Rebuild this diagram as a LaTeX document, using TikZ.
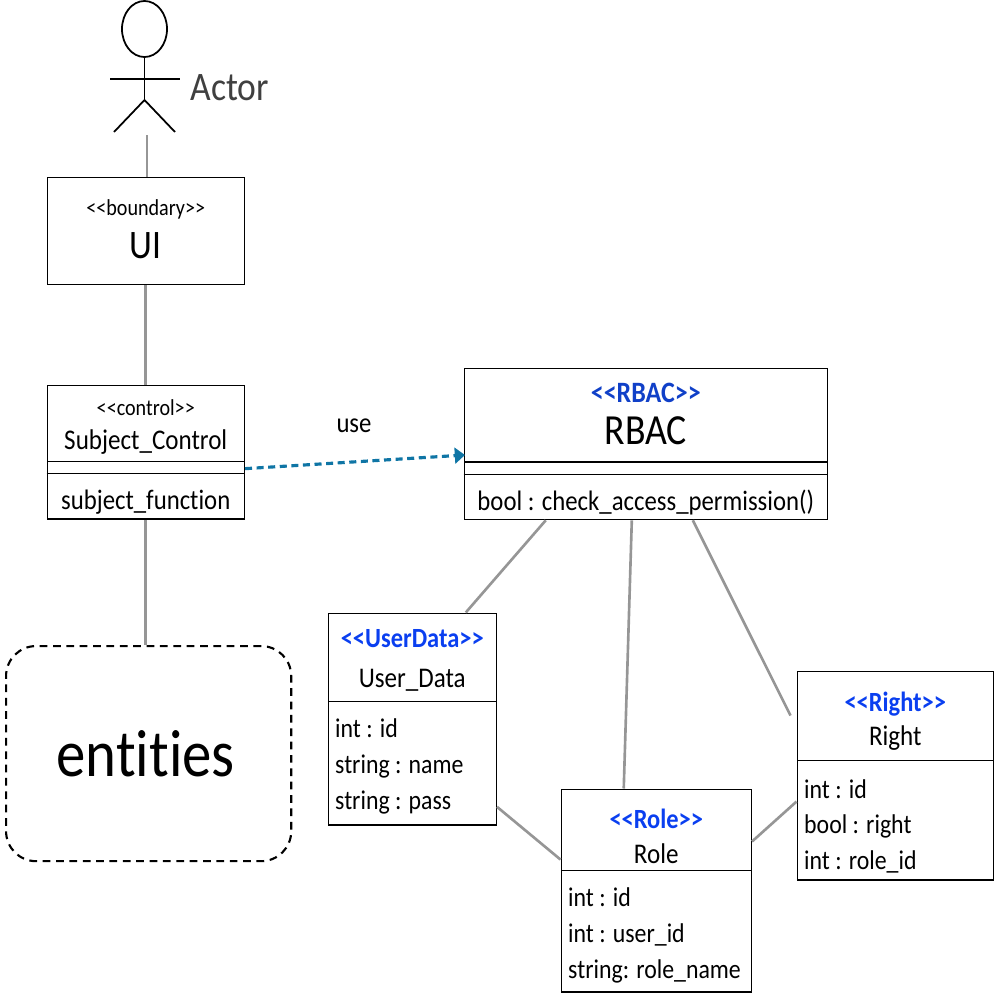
\documentclass[tikz,border=0pt]{standalone}
\usepackage{fontspec}
\setmainfont[FakeStretch=0.88,Ligatures=NoCommon]{Carlito}
\usetikzlibrary{shapes.multipart}
\usetikzlibrary{shapes.geometric}
\usetikzlibrary{arrows.meta}

\newcommand{\cellbox}[3]{\parbox[c][#2][c]{#1}{#3}}
\newcommand{\guil}[1]{<\kern0pt<#1>\kern0pt>}
\newcommand{\stereo}[1]{{\fontsize{6.5}{9}\selectfont\guil{#1}\par}}
\newcommand{\blue}[3]{{\fontsize{#1}{9}\selectfont\bfseries\color{#2}\guil{#3}\par}}
\newcommand{\cname}{\fontsize{8.1}{10}\selectfont}
\newcommand{\attr}{\fontsize{7.7}{10.2}\selectfont\raggedright\leftskip=0.07cm}

\definecolor{assoc}{HTML}{969696}
\definecolor{usedep}{HTML}{0F75A5}
\definecolor{rolebl}{HTML}{0A3FF0}
\definecolor{rbacbl}{HTML}{1040C8}

\begin{document}
\begin{tikzpicture}[x=0.01cm,y=-0.01cm,
  classbox/.style={draw,rectangle split,rectangle split parts=#1,inner sep=0pt,anchor=north west,line width=0.4pt,rectangle split part align=center},
  assocline/.style={draw=assoc,line width=0.75pt}]

\useasboundingbox (0,0) rectangle (1000,1000);

% actor
\node (head) [draw,ellipse,line width=0.5pt,minimum width=0.45cm,minimum height=0.56cm,inner sep=0pt] at (144.5,29) {};
\coordinate (hip) at (144.5,100);
\coordinate (foot) at (147,135);
\draw[line width=0.5pt] (head.south) -- (hip);
\draw[line width=0.5pt] (110,79) -- (180,79);
\draw[line width=0.5pt] (114,132) -- (hip) -- (175,132);
\node (actor) [anchor=west,inner sep=0pt,text=black!75] at (190,88) {\fontsize{11.5}{12}\selectfont Actor};

% ui
\node (ui) [classbox=1] at (46.5,177) {
\nodepart{one}\cellbox{1.97cm}{1.055cm}{\centering\stereo{boundary}\vspace{-0.7pt}{\fontsize{11.5}{13}\selectfont UI\par}\vspace*{0.04cm}}
};

% control
\node (control) [classbox=2] at (46.5,384.5) {
\nodepart{one}\cellbox{1.97cm}{0.75cm}{\vspace*{0.07cm}\centering\stereo{control}\vspace{-0.3pt}{\cname Subject\_Control\par}}
\nodepart{two}\cellbox{1.97cm}{0.56cm}{\vspace*{0.23cm}\centering\fontsize{8}{10}\selectfont subject\_function\par}
};
\draw[line width=0.4pt] ([yshift=-0.12cm]control.text split west) -- ([yshift=-0.12cm]control.text split east);

% entities
\node (entities) [draw,dash pattern=on 2.2pt off 1.6pt,line width=0.6pt,rounded corners=0.3cm,anchor=north west,minimum width=2.85cm,minimum height=2.15cm,inner sep=0pt] at (5,645) {\hspace*{-0.06cm}\fontsize{19}{22}\selectfont entities};

% rbac
\node (rbac) [classbox=2] at (463.5,368) {
\nodepart{one}\cellbox{3.63cm}{0.92cm}{\centering\blue{8.4}{rbacbl}{RBAC}\vspace{-1pt}{\fontsize{12.2}{13}\selectfont RBAC\par}\vspace*{0.03cm}}
\nodepart{two}\cellbox{3.63cm}{0.56cm}{\vspace*{0.23cm}\centering\fontsize{8}{10}\selectfont bool : check\_access\_permission()\par}
};
\draw[line width=0.4pt] ([yshift=-0.125cm]rbac.text split west) -- ([yshift=-0.125cm]rbac.text split east);

% user data
\node (userdata) [classbox=2] at (327.5,612.5) {
\nodepart{one}\cellbox{1.68cm}{0.87cm}{\vspace*{0.06cm}\centering\blue{7.9}{rolebl}{UserData}\vspace{1.3pt}{\cname User\_Data\par}}
\nodepart{two}\cellbox{1.68cm}{1.22cm}{\vspace*{0.06cm}\attr int : id\\string : name\\string : pass\par}
};

% role
\node (role) [classbox=2] at (560.5,788.5) {
\nodepart{one}\cellbox{1.90cm}{0.80cm}{\vspace*{0.13cm}\centering\blue{7.9}{rolebl}{Role}\vspace{-0.15pt}{\cname Role\par}}
\nodepart{two}\cellbox{1.90cm}{1.20cm}{\vspace*{0.08cm}\attr int : id\\int : user\_id\\string: role\_name\par}
};

% right
\node (right) [classbox=2] at (796.5,670.5) {
\nodepart{one}\cellbox{1.96cm}{0.88cm}{\vspace*{0.11cm}\centering\blue{7.9}{rolebl}{Right}\vspace{-0.3pt}{\cname Right\par}}
\nodepart{two}\cellbox{1.96cm}{1.18cm}{\vspace*{0.12cm}\attr int : id\\bool : right\\int : role\_id\par}
};

% connectors
\draw[assocline] (foot) -- (foot |- ui.north);
\draw[assocline] (ui.south) -- (control.north);
\draw[assocline] (control.south) -- (control.south |- entities.north);
\draw[assocline] ([xshift=-1cm]rbac.south) -- ([xshift=0.535cm]userdata.north);
\draw[assocline] ([xshift=-0.14cm]rbac.south) -- ([xshift=-0.325cm]role.north);
\draw[assocline] ([xshift=0.47cm]rbac.south) -- ([xshift=-0.06cm,yshift=-0.45cm]right.north west);
\draw[assocline] ([yshift=0.19cm]userdata.south east) -- ([yshift=-0.71cm]role.north west);
\draw[assocline] ([yshift=-0.53cm]role.north east) -- ([yshift=-1.31cm]right.north west);

% use
\coordinate (rbacin) at (465,455);
\draw[usedep,line width=0.9pt,dash pattern=on 2pt off 1.3pt,-{Triangle[length=2.9pt,width=4.5pt]}] ([yshift=-0.07cm]control.text split east) -- (rbacin);
\node (use) [inner sep=0pt] at (354,426) {\fontsize{8}{10}\selectfont use};

\end{tikzpicture}
\end{document}
